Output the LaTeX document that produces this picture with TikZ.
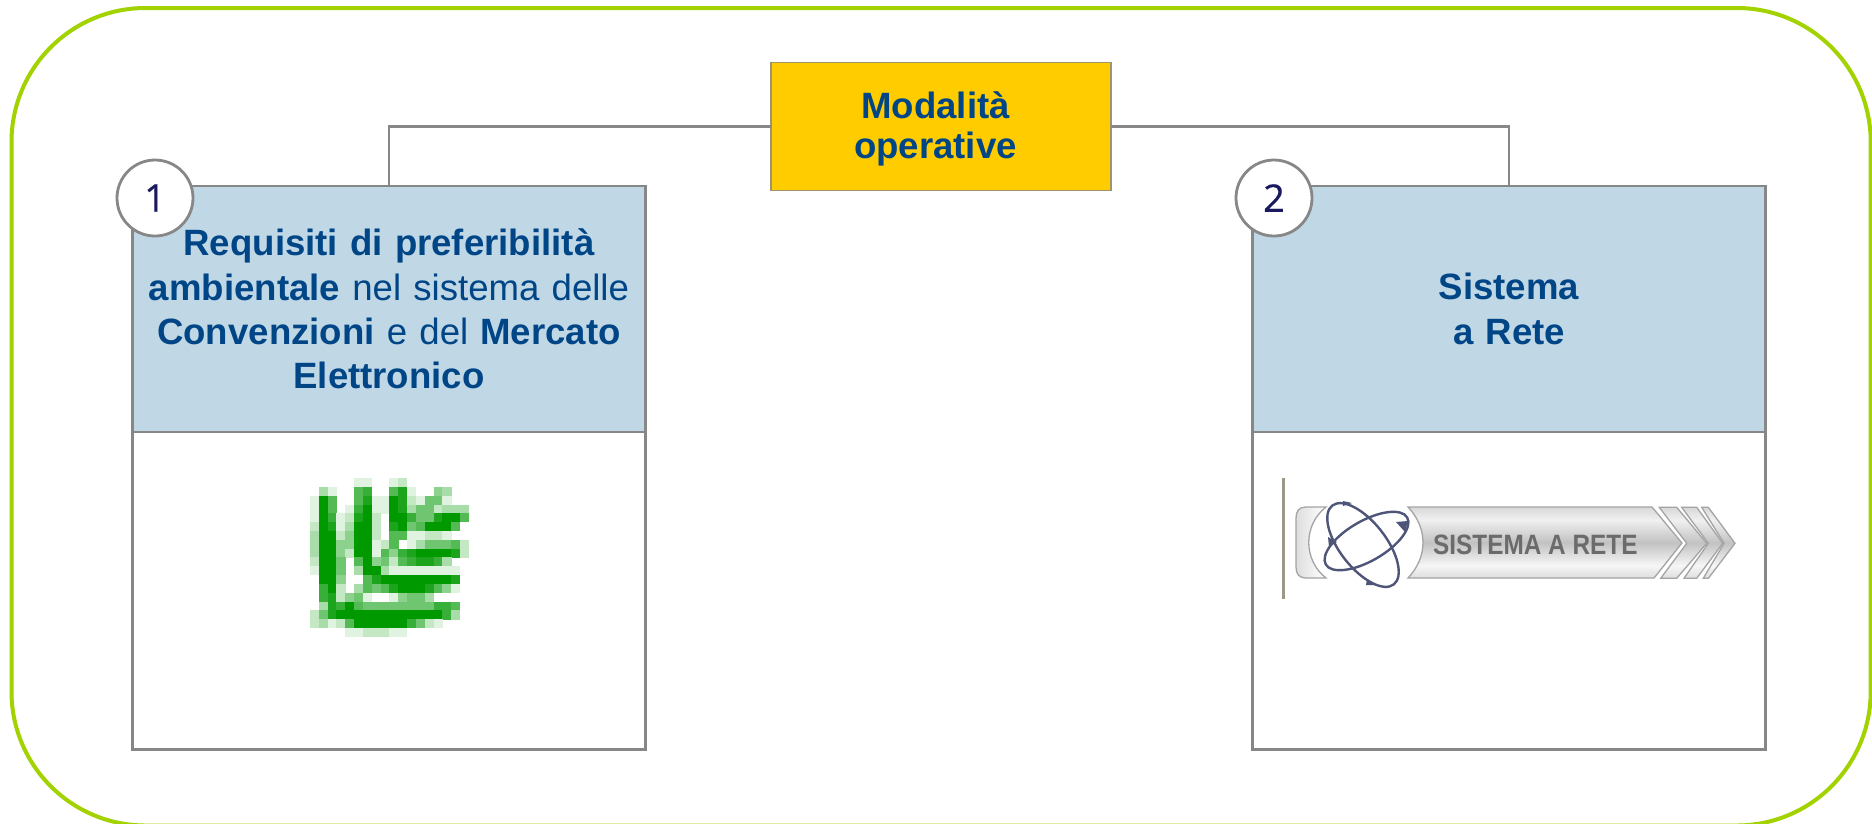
\documentclass[tikz,border=0pt]{standalone}
\usepackage{fontspec}
\setmainfont{Liberation Sans}
\newfontfamily\numfont[FakeBold=0.5]{Open Sans}
\usetikzlibrary{calc}
\definecolor{framegreen}{HTML}{A2D200}
\definecolor{headblue}{HTML}{C0D7E6}
\definecolor{topyellow}{HTML}{FFCC00}
\definecolor{txtblue}{HTML}{004586}
\definecolor{linegray}{HTML}{878787}
\definecolor{numblue}{HTML}{1A1A5E}
\definecolor{leafgreen}{HTML}{009900}
\definecolor{atomblue}{HTML}{4F5578}
\definecolor{badgeedge}{HTML}{A4A4A4}
\definecolor{gA}{HTML}{DEDEDE}
\definecolor{gB}{HTML}{F6F6F6}
\definecolor{gC}{HTML}{C2C2C2}
\definecolor{gD}{HTML}{F0F0F0}
\definecolor{gE}{HTML}{D8D8D8}
\pgfdeclareverticalshading{badgefill}{100bp}{color(0bp)=(gA); color(25bp)=(gA); color(34bp)=(gB); color(50bp)=(gC); color(66bp)=(gD); color(75bp)=(gE); color(100bp)=(gE)}
\tikzset{
  framebox/.style={draw=framegreen,line width=4pt,rounded corners=134pt},
  wire/.style={draw=linegray,line width=2.8pt},
  headbox/.style={draw=linegray,line width=2.8pt,fill=headblue,inner sep=0pt,outer sep=0pt,minimum width=513pt,minimum height=246pt,text width=490pt,align=center,text=txtblue,font=\fontsize{36.6}{44.5}\selectfont},
  bodybox/.style={draw=linegray,line width=2.8pt,fill=white,inner sep=0pt,outer sep=0pt,minimum width=513pt,minimum height=317.5pt},
  topbox/.style={draw=linegray!80!topyellow,line width=1.6pt,fill=topyellow,inner sep=0pt,outer sep=0pt,minimum width=340pt,minimum height=128pt},
  toplabel/.style={inner sep=0pt,align=center,text=txtblue,font=\fontsize{36.6}{40.7}\selectfont\bfseries},
  numcircle/.style={circle,draw=linegray,line width=2.8pt,fill=white,inner sep=0pt,minimum size=76pt,text=numblue,font=\fontsize{38}{38}\selectfont\numfont},
  badge/.style={draw=badgeedge,line width=1.3pt,shading=badgefill},
  badgecap/.style={draw=badgeedge,line width=1.3pt,left color=gA,middle color=gC!90!black,right color=white},
  orbit/.style={draw=atomblue,line width=2.4pt},
  orbitdot/.style={fill=atomblue},
}
\newcount\leafcol
\newcount\leafrow
\def\leafcell#1{\ifx#1;\else
  \ifnum#1>0
    \fill[leafgreen!\the\numexpr#1*11+1\relax!white]
      ({310+8.83*\the\leafcol},{478+8.83*\the\leafrow}) rectangle ++(9.1,9.1);
  \fi
  \global\advance\leafcol by 1
  \expandafter\leafcell\fi}
\def\leafline#1{\global\leafcol=0 \leafcell#1;\global\advance\leafrow by 1 }
\begin{document}
\begin{tikzpicture}[x=1pt,y=-1pt]
\useasboundingbox (0,0) rectangle (1872,823);
\fill[white] (0,0) rectangle (1872,823);
\draw[framebox] (11.5,8) rectangle (1870.7,825.5);

\node[topbox] (top) at (941,126.3) {};
\node[toplabel] (toptext) at (935.5,129) {Modalità\\operative};
\node[headbox,anchor=north] (h1) at (389,186) {\textbf{Requisiti di preferibilità}\\\textbf{ambientale} nel sistema delle\\\textbf{Convenzioni} e del \textbf{Mercato}\\\textbf{Elettronico}};
\node[bodybox,anchor=north] (b1) at (h1.south) {};
\node[headbox,anchor=north] (h2) at (1509,186) {\textbf{Sistema}\\\textbf{a Rete}};
\node[bodybox,anchor=north] (b2) at (h2.south) {};
\draw[wire] (top.west) -| (h1.north);
\draw[wire] (top.east) -| (h2.north);
\node[numcircle] (n1) at (155,198) {1};
\node[numcircle] (n2) at (1274,198) {2};

% leaf logo
\leafrow=0
\leafline{000001100120000000}
\leafline{031006700681004300}
\leafline{196006811982155100}
\leafline{196017911983552333}
\leafline{197128920997558996}
\leafline{298139920895699960}
\leafline{399249920661122100}
\leafline{399449912601355562}
\leafline{399429916478999982}
\leafline{299506945267887300}
\leafline{199503993111111110}
\leafline{099400689999999980}
\leafline{079203656899986410}
\leafline{078245100145530000}
\leafline{038796555555557760}
\leafline{258999999999999730}
\leafline{231269999997521000}
\leafline{000011222110000000}

% Sistema a Rete badge
\fill[black!45!white!90!olive] (1281.5,478) rectangle (1285,599);
\draw[badgecap] (1326,507) -- (1306,507) .. controls (1299,507) and (1296,511) .. (1296,518) -- (1296,567) .. controls (1296,574) and (1299,578) .. (1306,578) -- (1326,578) .. controls (1303,560) and (1303,525) .. (1326,507) -- cycle;
\draw[badge] (1408,507) -- (1652,507) -- (1682,543) -- (1654,578) -- (1408,578) .. controls (1428,557) and (1428,528) .. (1408,507) -- cycle;
\draw[badge] (1659.3,507.3) -- (1676.7,507.3) -- (1706.7,543.3) -- (1676.7,578.3) -- (1660.7,578.3) -- (1686.7,543.3) -- cycle;
\draw[badge] (1681.7,507.3) -- (1696.7,507.3) -- (1722.7,543.3) -- (1696.7,578.3) -- (1684,578.3) -- (1708.3,543.3) -- cycle;
\draw[badge] (1701.7,507.3) -- (1708.3,507.3) -- (1735,543.3) -- (1708.3,578.3) -- (1703.3,578.3) -- (1724,543.3) -- cycle;
\node[anchor=base west,inner sep=0pt,text=black!58,font=\fontsize{28}{28}\selectfont\bfseries] (badgetext) at (1433,554) {\scalebox{0.87}[1]{SISTEMA A RETE}};
\draw[orbit,rotate around={-52:(1363,545)}] (1363,545) ellipse (50pt and 23pt);
\draw[orbit,rotate around={30:(1366.5,541)}] (1366.5,541) ellipse (47pt and 20pt);
\fill[orbitdot] (1396,522) -- (1408,521) -- (1405,532) -- cycle;
\fill[orbitdot] (1328,537) -- (1337,542) -- (1329,547) -- cycle;
\fill[orbitdot] (1367,579) -- (1376,585) -- (1366,585) -- cycle;
\fill[orbitdot] (1343,501) -- (1352,503) -- (1343,506) -- cycle;
\end{tikzpicture}
\end{document}
